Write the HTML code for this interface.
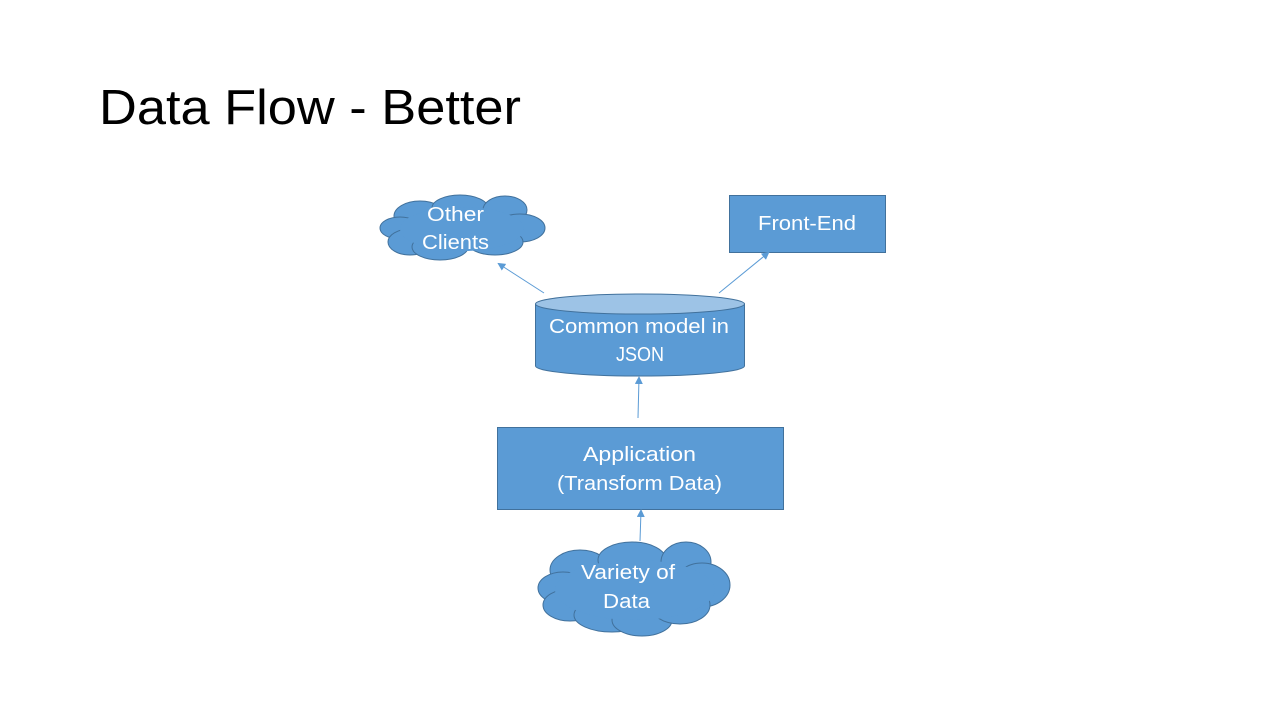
<!DOCTYPE html>
<html><head><style>
html,body{margin:0;padding:0;background:#fff;}
svg{display:block;}
text{font-family:"Liberation Sans",sans-serif;}
</style></head><body>
<svg width="1280" height="720" viewBox="0 0 1280 720">
<defs>
<marker id="a" markerWidth="8" markerHeight="8" refX="6" refY="4" orient="auto" markerUnits="userSpaceOnUse">
<path d="M0,0 L8,4 L0,8 z" fill="#5b9bd5"/></marker>
</defs>
<text x="99" y="124" font-size="49" fill="#000" textLength="422" lengthAdjust="spacingAndGlyphs" style="font-weight:300">Data Flow - Better</text>

<g stroke="#41719c" stroke-width="1" fill="#5b9bd5">
<ellipse cx="420" cy="216" rx="26" ry="15"/>
<ellipse cx="460" cy="208" rx="28" ry="13"/>
<ellipse cx="505" cy="210" rx="22" ry="14"/>
<ellipse cx="520" cy="228" rx="25" ry="14"/>
<ellipse cx="400" cy="228" rx="20" ry="11"/>
<ellipse cx="410" cy="242" rx="22" ry="13"/>
<ellipse cx="440" cy="247" rx="28" ry="13"/>
<ellipse cx="495" cy="242" rx="28" ry="13"/>
</g>
<g fill="#5b9bd5"><ellipse cx="462" cy="229" rx="62" ry="22"/></g>
<text x="427" y="221" font-size="20" fill="#fff" textLength="57" lengthAdjust="spacingAndGlyphs">Other</text>
<text x="422" y="249" font-size="20" fill="#fff" textLength="67" lengthAdjust="spacingAndGlyphs">Clients</text>

<rect x="729.5" y="195.5" width="156" height="57" fill="#5b9bd5" stroke="#41719c"/>
<text x="758" y="230" font-size="20" fill="#fff" textLength="98" lengthAdjust="spacingAndGlyphs">Front-End</text>

<path d="M535.5,304 L535.5,366 A104.5,10 0 0 0 744.5,366 L744.5,304" fill="#5b9bd5" stroke="#41719c"/>
<ellipse cx="640" cy="304" rx="104.5" ry="10" fill="#9dc3e6" stroke="#41719c"/>
<text x="549" y="333" font-size="20" fill="#fff" textLength="180" lengthAdjust="spacingAndGlyphs">Common model in</text>
<text x="616" y="361" font-size="20" fill="#fff" textLength="48" lengthAdjust="spacingAndGlyphs">JSON</text>

<rect x="497.5" y="427.5" width="286" height="82" fill="#5b9bd5" stroke="#41719c"/>
<text x="583" y="461" font-size="20" fill="#fff" textLength="113" lengthAdjust="spacingAndGlyphs">Application</text>
<text x="557" y="490" font-size="20" fill="#fff" textLength="165" lengthAdjust="spacingAndGlyphs">(Transform Data)</text>

<g stroke="#41719c" stroke-width="1" fill="#5b9bd5">
<ellipse cx="580" cy="570" rx="30" ry="20"/>
<ellipse cx="632" cy="560" rx="34" ry="18"/>
<ellipse cx="686" cy="562" rx="25" ry="20"/>
<ellipse cx="702" cy="585" rx="28" ry="22"/>
<ellipse cx="563" cy="588" rx="25" ry="16"/>
<ellipse cx="570" cy="605" rx="27" ry="16"/>
<ellipse cx="612" cy="615" rx="38" ry="17"/>
<ellipse cx="642" cy="620" rx="30" ry="16"/>
<ellipse cx="680" cy="605" rx="30" ry="19"/>
</g>
<g fill="#5b9bd5"><ellipse cx="635" cy="590" rx="80" ry="30"/></g>
<text x="581" y="579" font-size="20" fill="#fff" textLength="94" lengthAdjust="spacingAndGlyphs">Variety of</text>
<text x="603" y="608" font-size="20" fill="#fff" textLength="47" lengthAdjust="spacingAndGlyphs">Data</text>

<g stroke="#5b9bd5" stroke-width="1" fill="none" marker-end="url(#a)">
<line x1="544" y1="293" x2="499" y2="264"/>
<line x1="719" y1="293" x2="768" y2="253"/>
<line x1="638" y1="418" x2="639" y2="378"/>
<line x1="640" y1="541" x2="641" y2="511"/>
</g>
</svg>
</body></html>
